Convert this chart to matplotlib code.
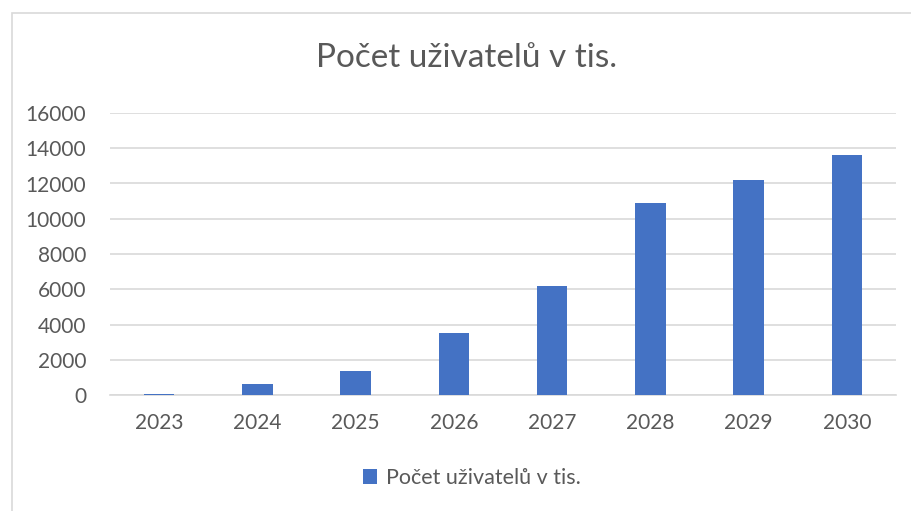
import matplotlib
matplotlib.use("Agg")
import matplotlib.pyplot as plt
from matplotlib.patches import Rectangle

years = ["2023", "2024", "2025", "2026", "2027", "2028", "2029", "2030"]
users = [60, 600, 1380, 3500, 6200, 10900, 12200, 13600]
yticks = [0, 2000, 4000, 6000, 8000, 10000, 12000, 14000, 16000]
title = "Počet uživatelů v tis."

plt.rcParams['font.family'] = ['Lato', 'DejaVu Sans']

W, H = 912, 511
fig = plt.figure(figsize=(W / 100, H / 100), dpi=100)
fig.patch.set_facecolor("white")

# chart frame (right and bottom edges fall outside the image)
fig.patches.append(Rectangle((12 / W, -0.05), 1.0, 1 - 13 / H + 0.05,
                             transform=fig.transFigure, fill=False,
                             edgecolor="#D9D9D9", linewidth=1.2))

ax = fig.add_axes([110 / W, 1 - 395 / H, (896 - 110) / W, (395 - 113) / H])
x = list(range(len(years)))
ax.bar(x, users, width=0.31, color="#4472C4", label=title, zorder=3)
ax.set_xlim(-0.5, len(years) - 0.5)
ax.set_ylim(0, 16000)
ax.set_yticks(yticks)
ax.set_yticklabels([str(v) for v in yticks])
ax.set_xticks(x)
ax.set_xticklabels(years)
ax.grid(axis="y", color="#D9D9D9", linewidth=1.2, zorder=0)
for s in ["top", "right", "left"]:
    ax.spines[s].set_visible(False)
ax.spines["bottom"].set_color("#D9D9D9")
ax.spines["bottom"].set_linewidth(1.2)
ax.tick_params(axis="both", length=0, labelsize=15, colors="#595959")
ax.tick_params(axis="x", pad=13)
ax.tick_params(axis="y", pad=17)

fig.text(467 / W, 1 - 58 / H, title, ha="center", va="center", fontsize=24,
         color="#595959", fontweight="normal")

leg = fig.legend(loc="center", bbox_to_anchor=(472 / W, 1 - 478 / H), frameon=False,
                 fontsize=15.5, handlelength=0.65, handleheight=0.65, handletextpad=0.4)
for t in leg.get_texts():
    t.set_color("#595959")

fig.savefig("out.png", dpi=100, facecolor="white")
